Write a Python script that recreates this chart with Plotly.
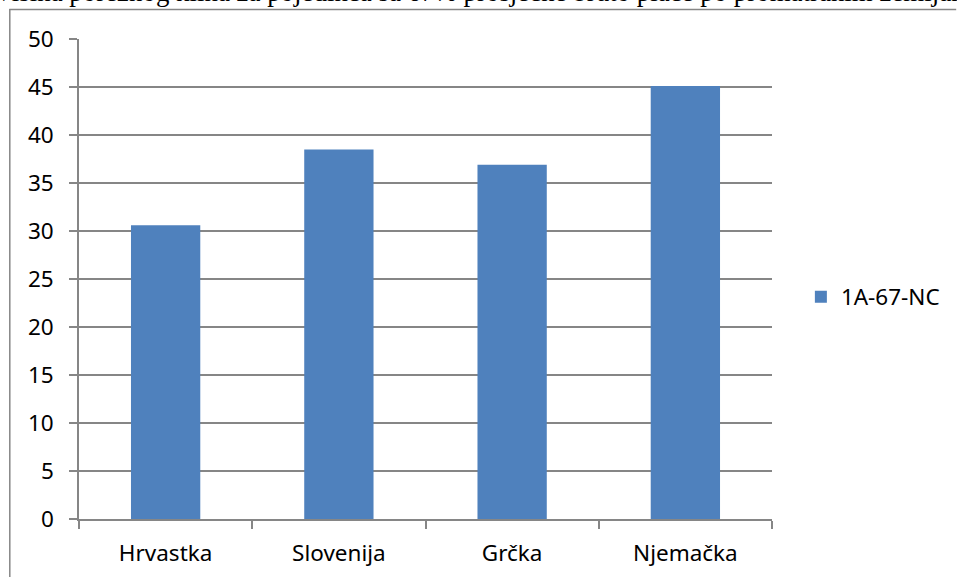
import plotly.graph_objects as go

categories = ["Hrvastka", "Slovenija", "Grčka", "Njemačka"]
values = [30.6, 38.5, 36.9, 45.1]
series_name = "1A-67-NC"
y_ticks = [0, 5, 10, 15, 20, 25, 30, 35, 40, 45, 50]
title_text = "Visina poreznog klina za pojedinca sa 67% prosječne bruto plaće po promatranim zemljama"

W, H = 957, 577
L, R, T, B = 79, 775, 39, 519
pw, ph = R - L, B - T

def px(x):
    return (x - L) / pw

def py(y):
    return (B - y) / ph

fig = go.Figure()
fig.add_trace(go.Bar(
    x=categories, y=values, name=series_name,
    marker=dict(color="#4F81BD", line=dict(width=0)),
    showlegend=True,
))

grid = "#868686"
FS = 22.5
fig.update_layout(
    width=W, height=H,
    margin=dict(l=L, r=W - R, t=T, b=H - B, pad=0),
    paper_bgcolor="white", plot_bgcolor="white",
    bargap=0.6,
    font=dict(family="Noto Sans, Open Sans, sans-serif", size=FS, color="#000000"),
    showlegend=True,
    legend=dict(x=px(804), y=py(297), xanchor="left", yanchor="middle",
                font=dict(size=FS), itemwidth=30, bgcolor="rgba(0,0,0,0)"),
    xaxis=dict(
        type="category", showgrid=False, showline=True, linecolor=grid, linewidth=1.5,
        ticks="outside", tickson="boundaries", ticklen=8, tickcolor=grid, tickwidth=1.5,
        tickfont=dict(size=FS), ticklabelstandoff=13, fixedrange=True, automargin=False,
    ),
    yaxis=dict(
        range=[0, 50], tickvals=y_ticks, showgrid=True, gridcolor=grid, gridwidth=1.5,
        showline=True, linecolor=grid, linewidth=1.5, zeroline=False,
        ticks="outside", ticklen=8, tickcolor=grid, tickwidth=1.5,
        tickfont=dict(size=FS), ticklabelstandoff=11, automargin=False, fixedrange=True,
    ),
    shapes=[
        dict(type="line", xref="paper", yref="paper", x0=px(9), x1=px(960), y0=py(9.5), y1=py(9.5),
             line=dict(color="#868686", width=1.5), layer="above"),
        dict(type="line", xref="paper", yref="paper", x0=px(9.5), x1=px(9.5), y0=py(9), y1=py(580),
             line=dict(color="#868686", width=1.5), layer="above"),
    ],
    annotations=[
        dict(text=title_text, xref="paper", yref="paper", x=px(-8), y=py(6),
             xanchor="left", yanchor="bottom", showarrow=False, yshift=-3,
             font=dict(family="Liberation Serif, Times New Roman, serif", size=26.9, color="#000000")),
    ],
)

fig.write_html("out.html", config={"displayModeBar": False},
               post_script="document.body.style.margin='0';document.body.style.padding='0';")
